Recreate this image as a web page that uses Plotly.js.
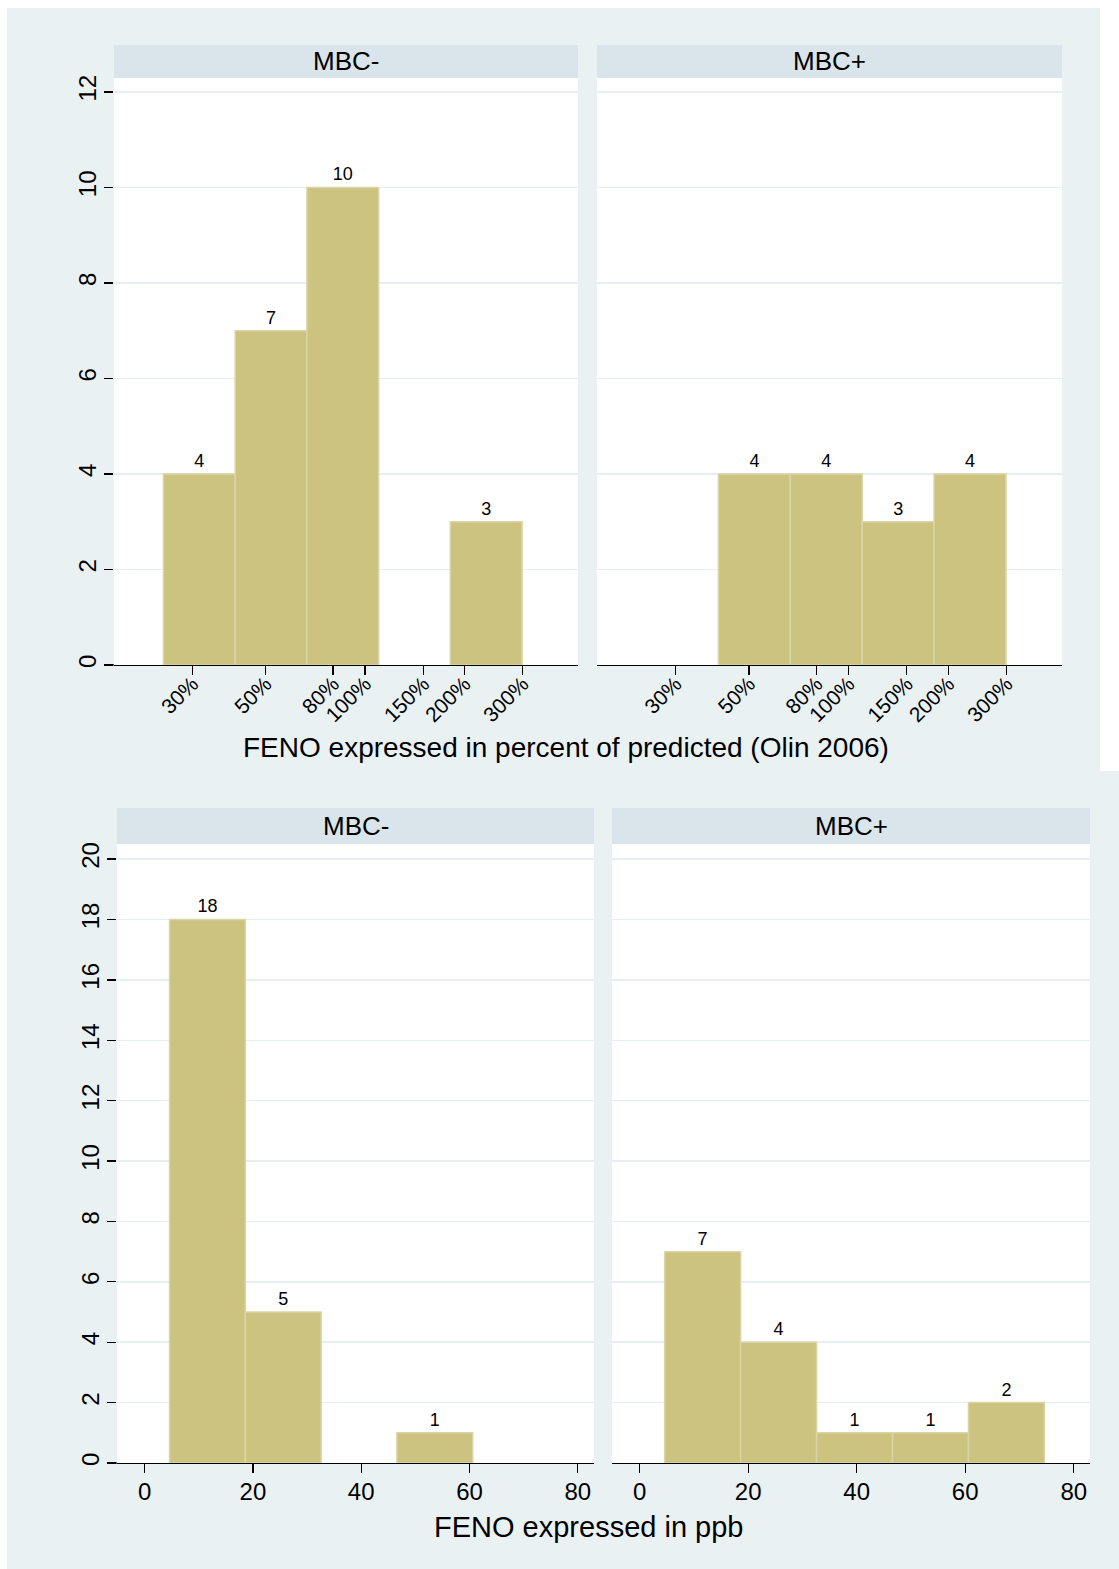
<!DOCTYPE html>
<html>
<head>
<meta charset="utf-8">
<script src="https://cdn.plot.ly/plotly-3.0.1.min.js"></script>
<style>
html,body{margin:0;padding:0;background:#fff;}
#chart{width:1119px;height:1569px;}
</style>
</head>
<body>
<div id="chart"></div>
<script>
// ---------- DATA ----------
const panelLabels = ['MBC-', 'MBC+'];

// Top: FENO in percent of predicted, histogram on natural-log scale
const pctBinEdgesLn = [3.2, 3.7, 4.2, 4.7, 5.2, 5.7];
const pctCountsMBCminus = [4, 7, 10, 0, 3];
const pctCountsMBCplus = [0, 4, 4, 3, 4];
const pctTickValues = [30, 50, 80, 100, 150, 200, 300];
const pctTickLabels = ['30%', '50%', '80%', '100%', '150%', '200%', '300%'];
const pctYTicks = [0, 2, 4, 6, 8, 10, 12];
const pctTitle = 'FENO expressed in percent of predicted (Olin 2006)';

// Bottom: FENO in ppb
const ppbBinEdges = [4.6, 18.6, 32.6, 46.6, 60.6, 74.6];
const ppbCountsMBCminus = [18, 5, 0, 1, 0];
const ppbCountsMBCplus = [7, 4, 1, 1, 2];
const ppbTickValues = [0, 20, 40, 60, 80];
const ppbYTicks = [0, 2, 4, 6, 8, 10, 12, 14, 16, 18, 20];
const ppbTitle = 'FENO expressed in ppb';

// ---------- STYLE ----------
const W = 1119, H = 1569;
const FONT = 'Liberation Sans, Arial, Helvetica, sans-serif';
const BG = '#eaf1f3';
const STRIP = '#d9e5ea';
const BAR = '#cbc37f';
const BAR_EDGE = '#dad4a6';
const GRID = '#e6eef2';
const px = x => x / W;
const py = y => 1 - y / H;

function hist(edges, counts, xa, ya) {
  const idx = counts.map((c, i) => i).filter(i => counts[i] > 0);
  return {
    type: 'bar',
    x: idx.map(i => (edges[i] + edges[i + 1]) / 2),
    y: idx.map(i => counts[i]),
    width: idx.map(i => edges[i + 1] - edges[i]),
    text: idx.map(i => String(counts[i])),
    textposition: 'outside',
    textfont: {family: FONT, size: 18, color: '#000'},
    cliponaxis: false,
    marker: {color: BAR, line: {color: BAR_EDGE, width: 1.5}},
    xaxis: xa, yaxis: ya,
    hoverinfo: 'skip',
    showlegend: false
  };
}

const data = [
  hist(pctBinEdgesLn, pctCountsMBCminus, 'x', 'y'),
  hist(pctBinEdgesLn, pctCountsMBCplus, 'x2', 'y2'),
  hist(ppbBinEdges, ppbCountsMBCminus, 'x3', 'y3'),
  hist(ppbBinEdges, ppbCountsMBCplus, 'x4', 'y4')
];

function xAxis(domain, anchor, range, tickvals, ticktext, angle, fsize, standoff) {
  const a = {
    domain: domain, anchor: anchor, range: range,
    tickmode: 'array', tickvals: tickvals,
    ticks: 'outside', ticklen: 9, tickwidth: 1.3, tickcolor: '#000',
    showline: true, linecolor: '#000', linewidth: 1.3,
    showgrid: false, zeroline: false,
    tickangle: angle,
    tickfont: {family: FONT, size: fsize, color: '#000'},
    ticklabelstandoff: standoff,
    fixedrange: true
  };
  if (ticktext) a.ticktext = ticktext;
  return a;
}
function yAxis(domain, anchor, range, tickvals, showLabels) {
  return {
    domain: domain, anchor: anchor, range: range,
    tickmode: 'array', tickvals: tickvals,
    ticks: showLabels ? 'outside' : '', ticklen: 9, tickwidth: 1.3, tickcolor: '#000',
    showticklabels: showLabels,
    tickangle: -90,
    tickfont: {family: FONT, size: 24, color: '#000'},
    ticklabelstandoff: -2,
    showline: false, zeroline: false,
    showgrid: true, gridcolor: GRID, gridwidth: 1.5,
    fixedrange: true
  };
}

const pctTickLn = pctTickValues.map(v => Math.log(v));
const topY = [py(665), py(78)];
const botY = [py(1463), py(844)];

function rect(x0, x1, y0, y1, color) {
  return {type: 'rect', xref: 'paper', yref: 'paper', x0: px(x0), x1: px(x1), y0: py(y1), y1: py(y0), fillcolor: color, line: {width: 0}, layer: 'below'};
}

const layout = {
  width: W, height: H,
  margin: {l: 0, r: 0, t: 0, b: 0},
  paper_bgcolor: BG,
  plot_bgcolor: '#ffffff',
  font: {family: FONT, color: '#000'},
  showlegend: false,
  bargap: 0,
  xaxis: xAxis([px(114), px(578)], 'y', [2.855, 6.09], pctTickLn, pctTickLabels, -45, 21, -12),
  yaxis: yAxis(topY, 'x', [0, 12.29], pctYTicks, true),
  xaxis2: xAxis([px(597), px(1062)], 'y2', [2.855, 6.09], pctTickLn, pctTickLabels, -45, 21, -12),
  yaxis2: yAxis(topY, 'x2', [0, 12.29], pctYTicks, false),
  xaxis3: xAxis([px(117), px(594)], 'y3', [-5.1, 83], ppbTickValues, null, 0, 24, -2),
  yaxis3: yAxis(botY, 'x3', [0, 20.5], ppbYTicks, true),
  xaxis4: xAxis([px(612), px(1090)], 'y4', [-5.1, 83], ppbTickValues, null, 0, 24, -2),
  yaxis4: yAxis(botY, 'x4', [0, 20.5], ppbYTicks, false),
  shapes: [
    rect(0, 1119, 0, 8, '#ffffff'),
    rect(0, 7, 0, 1569, '#ffffff'),
    rect(1100, 1119, 0, 771, '#ffffff'),
    rect(114, 578, 45, 78, STRIP),
    rect(597, 1062, 45, 78, STRIP),
    rect(117, 594, 808, 844, STRIP),
    rect(612, 1090, 808, 844, STRIP),
    {type: 'line', xref: 'paper', yref: 'paper', x0: px(105), x1: px(114), y0: py(665), y1: py(665), line: {color: '#000', width: 1.3}},
    {type: 'line', xref: 'paper', yref: 'paper', x0: px(107), x1: px(117), y0: py(1463), y1: py(1463), line: {color: '#000', width: 1.3}}
  ],
  annotations: [
    {xref: 'paper', yref: 'paper', x: px(346), y: py(61.5), text: panelLabels[0], showarrow: false, xanchor: 'center', yanchor: 'middle', font: {family: FONT, size: 26, color: '#000'}},
    {xref: 'paper', yref: 'paper', x: px(829.5), y: py(61.5), text: panelLabels[1], showarrow: false, xanchor: 'center', yanchor: 'middle', font: {family: FONT, size: 26, color: '#000'}},
    {xref: 'paper', yref: 'paper', x: px(355.5), y: py(826), text: panelLabels[0], showarrow: false, xanchor: 'center', yanchor: 'middle', font: {family: FONT, size: 26, color: '#000'}},
    {xref: 'paper', yref: 'paper', x: px(851), y: py(826), text: panelLabels[1], showarrow: false, xanchor: 'center', yanchor: 'middle', font: {family: FONT, size: 26, color: '#000'}},
    {xref: 'paper', yref: 'paper', x: px(566), y: py(747), text: pctTitle, showarrow: false, xanchor: 'center', yanchor: 'middle', font: {family: FONT, size: 28, color: '#000'}},
    {xref: 'paper', yref: 'paper', x: px(588), y: py(1527), text: ppbTitle, showarrow: false, xanchor: 'center', yanchor: 'middle', font: {family: FONT, size: 29, color: '#000'}}
  ]
};

Plotly.newPlot('chart', data, layout, {staticPlot: true, displayModeBar: false});
</script>
</body>
</html>
